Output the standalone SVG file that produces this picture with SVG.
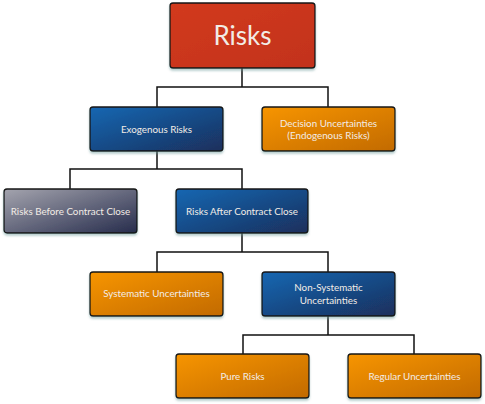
<svg xmlns="http://www.w3.org/2000/svg" width="485" height="404" viewBox="0 0 485 404">
<defs>
<linearGradient id="gRed" x1="0" y1="0" x2="1" y2="1"><stop offset="0" stop-color="#d23a1e"/><stop offset="1" stop-color="#c2321a"/></linearGradient>
<linearGradient id="gBlue" x1="0" y1="0" x2="1" y2="1"><stop offset="0" stop-color="#1467b2"/><stop offset="1" stop-color="#1b2f5c"/></linearGradient>
<linearGradient id="gOrange" x1="0" y1="0" x2="1" y2="1"><stop offset="0" stop-color="#f79502"/><stop offset="1" stop-color="#c26a04"/></linearGradient>
<linearGradient id="gGrey" x1="0" y1="0" x2="1" y2="1"><stop offset="0" stop-color="#a4a4ae"/><stop offset="1" stop-color="#262c4c"/></linearGradient>
<filter id="sh" x="-10%" y="-10%" width="120%" height="130%"><feDropShadow dx="0" dy="2" stdDeviation="1.2" flood-color="#6a9a9a" flood-opacity="0.5"/></filter>
</defs>
<style>
.box{stroke:#151515;stroke-width:1.3;filter:url(#sh)}
.t{font-family:Lato,"Open Sans",sans-serif;font-size:9.8px;fill:#f2ece6;text-anchor:middle}
.con{fill:none;stroke:#111;stroke-width:1.5}
</style>
<g id="connectors">
<path class="con" d="M242 68 V87 M157 108 V87 H328 V108"/>
<path class="con" d="M157 151 V169 M70 189 V169 H242 V189"/>
<path class="con" d="M242 233 V252 M157 272 V252 H328 V272"/>
<path class="con" d="M328 316 V335 M243 354 V335 H414 V354"/>
</g>
<g id="risks"><rect class="box" x="170" y="3" width="145" height="65" rx="3" fill="url(#gRed)"/><text class="t" x="242.5" y="45" style="font-size:26px">Risks</text></g>
<g id="exogenous"><rect class="box" x="90" y="107" width="133" height="44" rx="3" fill="url(#gBlue)"/><text class="t" x="156.5" y="132.5">Exogenous Risks</text></g>
<g id="decision"><rect class="box" x="262" y="107" width="133" height="44" rx="3" fill="url(#gOrange)"/><text class="t" x="328.5" y="126.5">Decision Uncertainties</text><text class="t" x="328.5" y="138.5">(Endogenous Risks)</text></g>
<g id="before"><rect class="box" x="4" y="189" width="133" height="44" rx="3" fill="url(#gGrey)"/><text class="t" x="70.5" y="214.5">Risks Before Contract Close</text></g>
<g id="after"><rect class="box" x="176" y="189" width="132" height="44" rx="3" fill="url(#gBlue)"/><text class="t" x="242" y="214.5">Risks After Contract Close</text></g>
<g id="systematic"><rect class="box" x="90" y="272" width="133" height="44" rx="3" fill="url(#gOrange)"/><text class="t" x="156.5" y="296.5">Systematic Uncertainties</text></g>
<g id="nonsystematic"><rect class="box" x="262" y="272" width="133" height="44" rx="3" fill="url(#gBlue)"/><text class="t" x="328.5" y="291">Non-Systematic</text><text class="t" x="328.5" y="303.5">Uncertainties</text></g>
<g id="pure"><rect class="box" x="176" y="354" width="133" height="44" rx="3" fill="url(#gOrange)"/><text class="t" x="242.5" y="379.5">Pure Risks</text></g>
<g id="regular"><rect class="box" x="348" y="354" width="133" height="44" rx="3" fill="url(#gOrange)"/><text class="t" x="414.5" y="379.5">Regular Uncertainties</text></g>
</svg>
